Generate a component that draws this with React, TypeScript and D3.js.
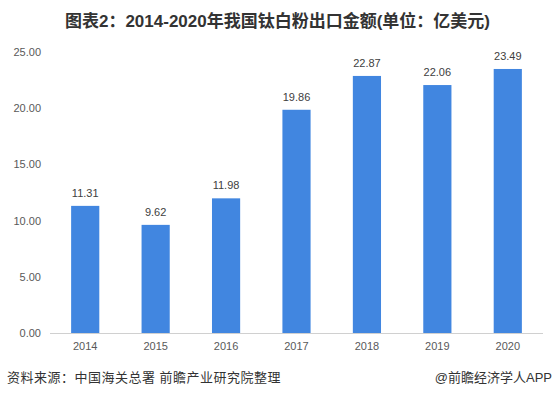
import React from "react";
import * as d3 from "d3";

const years = ["2014", "2015", "2016", "2017", "2018", "2019", "2020"];
const values = [11.31, 9.62, 11.98, 19.86, 22.87, 22.06, 23.49];
const yTicks = [0, 5, 10, 15, 20, 25];
const title = "图表2：2014-2020年我国钛白粉出口金额(单位：亿美元)";
const source = "资料来源：中国海关总署 前瞻产业研究院整理";
const credit = "@前瞻经济学人APP";

const W = 555;
const H = 397;
const left = 50;
const right = 543;
const top = 52;
const bottom = 333;

export default function App() {
  const x = d3.scaleBand<string>().domain(years).range([left, right]).paddingInner(0.6).paddingOuter(0.3);
  const y = d3.scaleLinear().domain([0, 25]).range([bottom, top]);
  const font = "Arial, 'Liberation Sans', 'Noto Sans CJK SC', sans-serif";
  return (
    <svg width={W} height={H} style={{ position: "absolute", left: 0, top: 0, background: "#fff" }} fontFamily={font}>
      <text x={W / 2} y={27} textAnchor="middle" fontSize={17} fontWeight="bold" fill="#333">{title}</text>
      {yTicks.map((t) => (
        <text key={t} x={41} y={y(t) + 4} textAnchor="end" fontSize={11} fill="#595959">{t.toFixed(2)}</text>
      ))}
      {values.map((v, i) => (
        <g key={years[i]}>
          <rect x={x(years[i])} y={y(v)} width={x.bandwidth()} height={bottom - y(v)} fill="#4186e0" />
          <text x={(x(years[i]) as number) + x.bandwidth() / 2} y={y(v) - 9} textAnchor="middle" fontSize={11} fill="#404040">{v.toFixed(2)}</text>
          <text x={(x(years[i]) as number) + x.bandwidth() / 2} y={bottom + 17} textAnchor="middle" fontSize={11} fill="#595959">{years[i]}</text>
        </g>
      ))}
      <line x1={left} x2={right} y1={bottom + 0.5} y2={bottom + 0.5} stroke="#d0d0d0" strokeWidth={1} />
      <text x={7} y={382} fontSize={13} fill="#333" letterSpacing={0.5}>{source}</text>
      <text x={W - 3} y={382} textAnchor="end" fontSize={13} fill="#333">{credit}</text>
    </svg>
  );
}
